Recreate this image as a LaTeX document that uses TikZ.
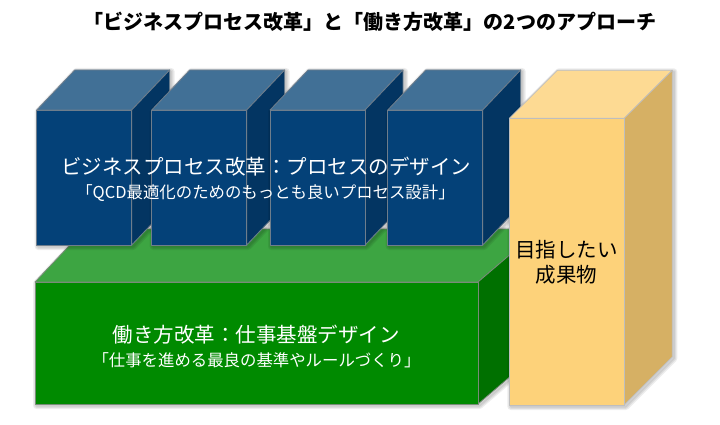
\documentclass[tikz,border=0pt]{standalone}
\usepackage{fontspec}
\setmainfont{Noto Sans CJK JP}
\definecolor{bfront}{RGB}{4,65,120}
\definecolor{btop}{RGB}{65,112,150}
\definecolor{bside}{RGB}{3,53,98}
\definecolor{bedge}{RGB}{110,125,140}
\definecolor{gfront}{RGB}{0,138,0}
\definecolor{gtop}{RGB}{61,165,66}
\definecolor{gside}{RGB}{0,112,0}
\definecolor{gedge}{RGB}{120,140,120}
\definecolor{yfront}{RGB}{253,210,122}
\definecolor{ytop}{RGB}{253,218,147}
\definecolor{yside}{RGB}{214,176,100}
\definecolor{yedge}{RGB}{190,190,190}
\tikzset{
  halo/.style={line width=#1, black, opacity=0.07, line join=round},
  bface/.style={draw=bedge, line width=0.8pt, line join=round},
  gface/.style={draw=gedge, line width=0.8pt, line join=round},
  yface/.style={draw=yedge, line width=0.8pt, line join=round},
  maintext/.style={inner sep=0pt, font=\fontsize{20.5}{24}\selectfont},
  subtext/.style={inner sep=0pt, font=\fontsize{16.4}{19}\selectfont},
}
\newcommand{\cubebox}[1]{%
  \foreach \w in {7,4.5,2}
    \draw[halo=\w pt, xshift=1.5pt, yshift=-1.5pt] (#1,110) -- (#1+38,70) -- (#1+133,70) -- (#1+133,205) -- (#1+95,245) -- (#1,245) -- cycle;
  \fill[bface, fill=btop] (#1,110) -- (#1+38,70) -- (#1+133,70) -- (#1+95,110) -- cycle;
  \fill[bface, fill=bside] (#1+95,110) -- (#1+133,70) -- (#1+133,205) -- (#1+95,245) -- cycle;
  \fill[bface, fill=bfront] (#1,110) rectangle (#1+95,245);
}
\begin{document}
\begin{tikzpicture}[x=1pt,y=-1pt]
\useasboundingbox[fill=white] (0,0) rectangle (720,425);

% title
\node[inner sep=0pt, font=\fontsize{20}{24}\selectfont\bfseries] (title) at (370,22) {「ビジネスプロセス改革」と「働き方改革」の2つのアプローチ};

% green base
\foreach \w in {7,4.5,2}
  \draw[halo=\w pt, xshift=1.5pt, yshift=-1.5pt] (35,282) -- (85,229) -- (540,229) -- (540,351) -- (478,404) -- (35,404) -- cycle;
\fill[gface, fill=gtop] (35,282) -- (85,229) -- (540,229) -- (478,282) -- cycle;
\fill[gface, fill=gside] (478,282) -- (540,229) -- (540,351) -- (478,404) -- cycle;
\fill[gface, fill=gfront] (35,282) rectangle (478,404);

% blue cubes
\cubebox{36.7}
\cubebox{151.7}
\cubebox{270}
\cubebox{387.7}

% yellow box
\foreach \w in {7,4.5,2}
  \draw[halo=\w pt, xshift=1.5pt, yshift=-1.5pt] (509.3,118.3) -- (557.3,70.3) -- (672.3,70.3) -- (672.3,357) -- (624.3,405) -- (509.3,405) -- cycle;
\fill[yface, fill=ytop] (509.3,118.3) -- (557.3,70.3) -- (672.3,70.3) -- (624.3,118.3) -- cycle;
\fill[yface, fill=yside] (624.3,118.3) -- (672.3,70.3) -- (672.3,357) -- (624.3,405) -- cycle;
\fill[yface, fill=yfront] (509.3,118.3) rectangle (624.3,405);

% texts
\node[maintext, text=white] (bmain) at (266,166.7) {ビジネスプロセス改革：プロセスのデザイン};
\node[subtext, text=white] (bsub) at (265.5,193) {「QCD最適化のためのもっとも良いプロセス設計」};
\node[maintext, text=white] (gmain) at (256,335) {働き方改革：仕事基盤デザイン};
\node[subtext, text=white] (gsub) at (256.5,360) {「仕事を進める最良の基準やルールづくり」};
\node[maintext, text=black] (ytext1) at (566.7,250) {目指したい};
\node[maintext, text=black] (ytext2) at (566.7,275) {成果物};
\end{tikzpicture}
\end{document}
